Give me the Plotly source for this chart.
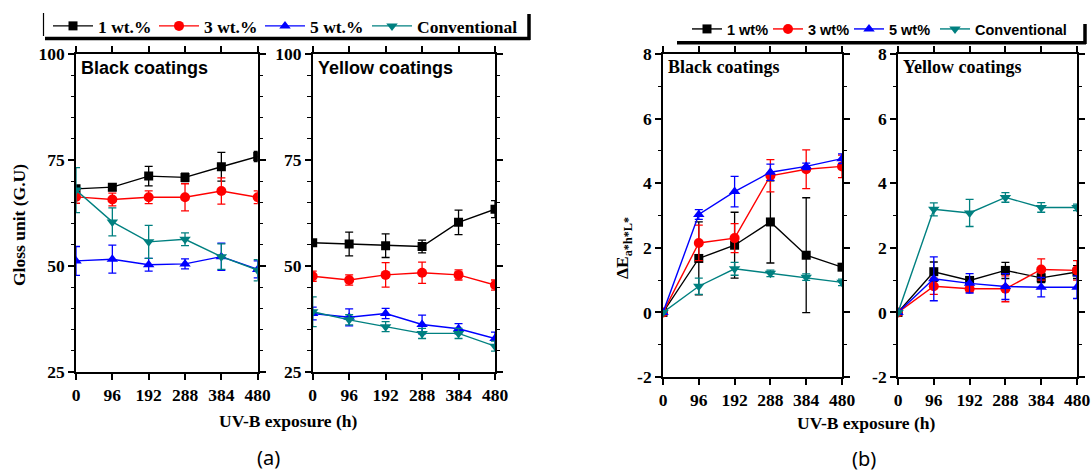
import plotly.graph_objects as go

W, H = 1091, 473

# ---------------- data ----------------
hours = [0, 96, 192, 288, 384, 480]
series_names_a = ["1 wt.%", "3 wt.%", "5 wt.%", "Conventional"]
series_names_b = ["1 wt%", "3 wt%", "5 wt%", "Conventional"]

# (a) gloss, black coatings
gloss_black_1 = [68.2, 68.6, 71.2, 70.9, 73.4, 75.8]
gloss_black_1_err = [0.6, 0.8, 2.3, 1.0, 3.4, 1.2]
gloss_black_3 = [66.3, 65.7, 66.2, 66.2, 67.7, 66.2]
gloss_black_3_err = [1.5, 1.5, 1.5, 3.2, 3.1, 1.5]
gloss_black_5 = [51.2, 51.6, 50.3, 50.5, 52.2, 49.2]
gloss_black_5_err = [3.4, 3.3, 1.5, 1.2, 3.2, 2.0]
gloss_black_c = [67.9, 60.4, 55.7, 56.3, 52.2, 49.0]
gloss_black_c_err = [5.3, 3.3, 3.9, 1.5, 3.0, 2.5]

# (a) gloss, yellow coatings
gloss_yellow_1 = [55.5, 55.2, 54.8, 54.6, 60.3, 63.4]
gloss_yellow_1_err = [0.6, 2.8, 2.8, 1.5, 2.9, 2.0]
gloss_yellow_3 = [47.6, 46.7, 47.9, 48.4, 47.9, 45.5]
gloss_yellow_3_err = [1.2, 1.2, 2.9, 2.5, 1.2, 1.2]
gloss_yellow_5 = [38.8, 37.9, 38.8, 36.2, 35.2, 32.9]
gloss_yellow_5_err = [1.5, 2.0, 1.2, 2.2, 1.2, 1.5]
gloss_yellow_c = [39.2, 37.3, 35.7, 34.1, 34.1, 31.1]
gloss_yellow_c_err = [3.5, 1.2, 1.2, 1.2, 1.2, 1.2]

# (b) colour change, black coatings
de_black_1 = [0, 1.67, 2.08, 2.80, 1.77, 1.40]
de_black_1_err = [0, 1.13, 1.02, 1.27, 1.78, 0.1]
de_black_3 = [0, 2.15, 2.30, 4.23, 4.43, 4.52]
de_black_3_err = [0, 0.55, 0.45, 0.5, 0.6, 0.35]
de_black_5 = [0, 3.03, 3.74, 4.34, 4.52, 4.76]
de_black_5_err = [0, 0.15, 0.47, 0.25, 0.1, 0.15]
de_black_c = [0, 0.81, 1.35, 1.21, 1.09, 0.93]
de_black_c_err = [0, 0.25, 0.2, 0.1, 0.1, 0.1]

# (b) colour change, yellow coatings
de_yellow_1 = [0, 1.26, 0.99, 1.30, 1.07, 1.25]
de_yellow_1_err = [0, 0.3, 0.1, 0.25, 0.15, 0.2]
de_yellow_3 = [0, 0.81, 0.73, 0.73, 1.33, 1.30]
de_yellow_3_err = [0, 0.25, 0.1, 0.4, 0.33, 0.3]
de_yellow_5 = [0, 1.04, 0.90, 0.80, 0.78, 0.78]
de_yellow_5_err = [0, 0.68, 0.3, 0.4, 0.3, 0.35]
de_yellow_c = [0, 3.19, 3.08, 3.56, 3.25, 3.25]
de_yellow_c_err = [0, 0.2, 0.42, 0.15, 0.15, 0.1]

x_ticks = [0, 96, 192, 288, 384, 480]
gloss_ticks = [25, 50, 75, 100]
de_ticks = [-2, 0, 2, 4, 6, 8]
de_tick_text = ["-2", "0", "2", "4", "6", "8"]

colors = ["#000000", "#FF0000", "#0000FF", "#008080"]
symbols = ["square", "circle", "triangle-up", "triangle-down"]
sizes = [9, 10, 10, 10]
legend_widths_a = [51, 51, 52, 110]
legend_widths_b = [36, 36, 41, 95]

panels = [
    ("x", "y", [gloss_black_1, gloss_black_3, gloss_black_5, gloss_black_c],
     [gloss_black_1_err, gloss_black_3_err, gloss_black_5_err, gloss_black_c_err], True, "legend",
     series_names_a, legend_widths_a),
    ("x2", "y2", [gloss_yellow_1, gloss_yellow_3, gloss_yellow_5, gloss_yellow_c],
     [gloss_yellow_1_err, gloss_yellow_3_err, gloss_yellow_5_err, gloss_yellow_c_err], False, "legend",
     series_names_a, legend_widths_a),
    ("x3", "y3", [de_black_1, de_black_3, de_black_5, de_black_c],
     [de_black_1_err, de_black_3_err, de_black_5_err, de_black_c_err], True, "legend2",
     series_names_b, legend_widths_b),
    ("x4", "y4", [de_yellow_1, de_yellow_3, de_yellow_5, de_yellow_c],
     [de_yellow_1_err, de_yellow_3_err, de_yellow_5_err, de_yellow_c_err], False, "legend2",
     series_names_b, legend_widths_b),
]

fig = go.Figure()
for xa, ya, ys, errs, show, leg, names, lw in panels:
    for i in range(4):
        fig.add_trace(go.Scatter(
            x=hours, y=ys[i], xaxis=xa, yaxis=ya, name=names[i],
            mode="lines+markers", showlegend=show, legend=leg, legendwidth=lw[i],
            line=dict(color=colors[i], width=1.4),
            marker=dict(symbol=symbols[i], size=sizes[i], color=colors[i]),
            error_y=dict(type="data", array=errs[i], color=colors[i], thickness=1.3, width=4),
        ))

def px_x(p):
    return p / W

def px_y(p):
    return 1 - p / H

serif = "Liberation Serif"
sans = "Liberation Sans"

def xaxis(dom, anchor):
    return dict(domain=[px_x(dom[0]), px_x(dom[1])], anchor=anchor, range=[0, 480],
                tickvals=x_ticks, showline=True, linecolor="black", linewidth=1.6,
                mirror="ticks", ticks="outside", ticklen=6, tickwidth=1.5, tickcolor="black",
                showgrid=False, zeroline=False,
                tickfont=dict(family=serif, size=17.5, color="black", weight="bold"))

def yaxis(dom, anchor, rng, tv, tt, minor):
    return dict(domain=[px_y(dom[1]), px_y(dom[0])], anchor=anchor, range=rng,
                tickvals=tv, ticktext=tt, showline=True, linecolor="black", linewidth=1.6,
                mirror="ticks", ticks="outside", ticklen=6, tickwidth=1.5, tickcolor="black",
                minor=dict(dtick=minor, ticks="outside", ticklen=3.5, tickwidth=1.3, tickcolor="black"),
                showgrid=False, zeroline=False,
                tickfont=dict(family=serif, size=17.5, color="black", weight="bold"))

ya_dom = (54, 372)
yb_dom = (54, 377)

fig.update_layout(
    width=W, height=H, autosize=False,
    margin=dict(l=0, r=0, t=0, b=0, pad=0, autoexpand=False),
    paper_bgcolor="white", plot_bgcolor="white",
    xaxis=xaxis((76, 257.7), "y"),
    xaxis2=xaxis((312.7, 495), "y2"),
    xaxis3=xaxis((663, 842), "y3"),
    xaxis4=xaxis((898, 1077), "y4"),
    yaxis=yaxis(ya_dom, "x", [25, 100], gloss_ticks, [str(v) for v in gloss_ticks], 5),
    yaxis2=yaxis(ya_dom, "x2", [25, 100], gloss_ticks, [str(v) for v in gloss_ticks], 5),
    yaxis3=yaxis(yb_dom, "x3", [-2, 8], de_ticks, de_tick_text, 1),
    yaxis4=yaxis(yb_dom, "x4", [-2, 8], de_ticks, de_tick_text, 1),
    legend=dict(orientation="h", x=px_x(48), y=px_y(8), xanchor="left", yanchor="top",
                itemwidth=40, borderwidth=0,
                bgcolor="rgba(0,0,0,0)", tracegroupgap=0,
                font=dict(family=serif, size=17.5, color="black", weight="bold")),
    legend2=dict(orientation="h", x=px_x(687), y=px_y(13), xanchor="left", yanchor="top",
                 itemwidth=30, borderwidth=0,
                 bgcolor="rgba(0,0,0,0)", tracegroupgap=0,
                 font=dict(family=sans, size=14.5, color="black", weight="bold")),
    showlegend=True,
)

# legend frames (shadow style)
shape_specs = [
    (43.5, 13, 43.5, 36, 1.2),
    (45, 38.5, 530, 38.5, 3.5),
    (529, 14, 529, 40, 3.5),
    (677, 42.7, 1086, 42.7, 3.5),
    (1085, 24, 1085, 44, 3.5),
]
for x0, y0, x1, y1, w in shape_specs:
    fig.add_shape(type="line", xref="paper", yref="paper",
                  x0=px_x(x0), y0=px_y(y0), x1=px_x(x1), y1=px_y(y1),
                  line=dict(color="black", width=w))

def ann(text, x, y, family, size, bold=True, xanchor="left", angle=0):
    fig.add_annotation(text=text, x=px_x(x), y=px_y(y), xref="paper", yref="paper",
                       xanchor=xanchor, yanchor="middle", showarrow=False, textangle=angle,
                       font=dict(family=family, size=size, color="black",
                                 weight="bold" if bold else "normal"))

ann("Black coatings", 79, 68, sans, 18)
ann("Yellow coatings", 316, 68, sans, 18)
ann("Black coatings", 666, 67, serif, 18)
ann("Yellow coatings", 901, 67, serif, 18)
ann("Gloss unit (G.U)", 19, 225, serif, 17.5, xanchor="center", angle=-90)
ann("ΔE<sub>a*h*L*</sub>", 623, 248, serif, 17.5, xanchor="center", angle=-90)
ann("UV-B exposure (h)", 288, 421, serif, 17.5, xanchor="center")
ann("UV-B exposure (h)", 866, 423, serif, 17.5, xanchor="center")
ann("(a)", 268, 457, "Noto Sans", 20, bold=False, xanchor="center")
ann("(b)", 864, 458, "Noto Sans", 20, bold=False, xanchor="center")

fig.write_html(
    "out.html",
    include_plotlyjs=True,
    config={"displayModeBar": False, "responsive": False},
    default_width="%dpx" % W,
    default_height="%dpx" % H,
    post_script="document.body.style.margin='0';",
)
